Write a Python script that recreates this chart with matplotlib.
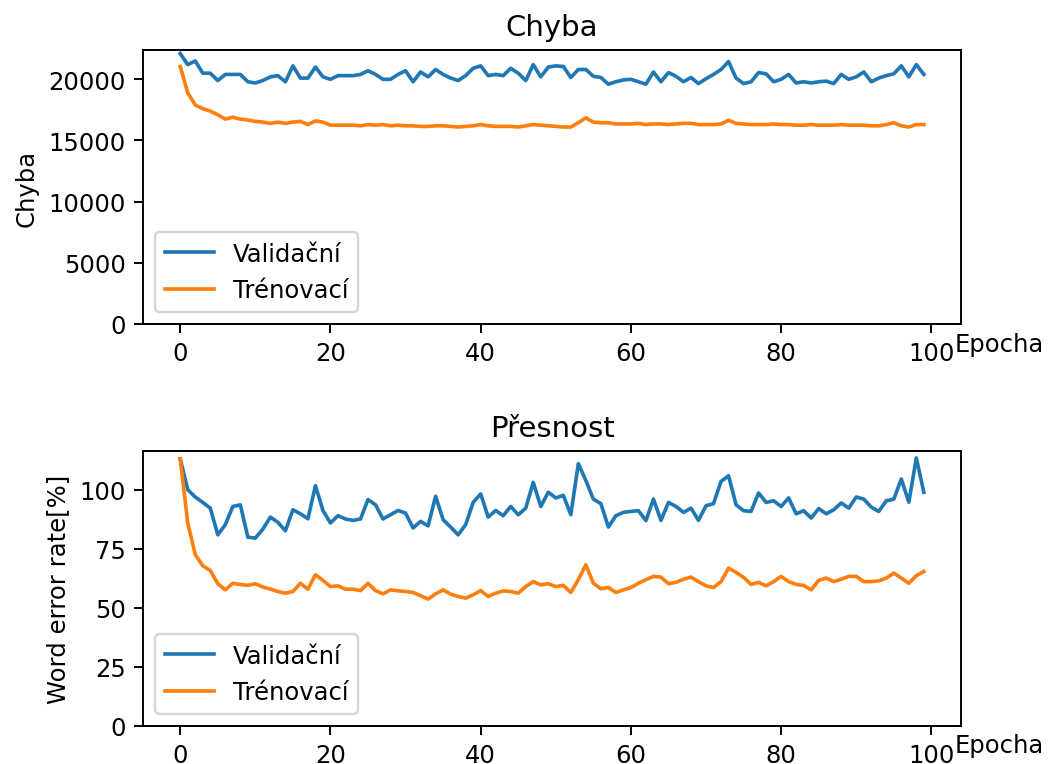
import numpy as np
import matplotlib
matplotlib.use('Agg')
from matplotlib import pyplot as plt

# epochs
epochs = np.arange(100)

# chyba (loss) - validacni / trenovaci, v tisicich
loss_val = [22.1, 21.2, 21.5, 20.5, 20.5, 19.9, 20.4, 20.4, 20.4, 19.8,
            19.7, 19.9, 20.2, 20.3, 19.8, 21.1, 20.1, 20.1, 21.0, 20.2,
            20.0, 20.3, 20.3, 20.3, 20.4, 20.7, 20.4, 20.0, 20.0, 20.4,
            20.7, 19.8, 20.6, 20.2, 20.8, 20.4, 20.1, 19.9, 20.3, 20.9,
            21.1, 20.3, 20.4, 20.3, 20.9, 20.5, 19.9, 21.2, 20.2, 21.0,
            21.1, 21.05, 20.15, 20.8, 20.8, 20.25, 20.15, 19.6, 19.8, 19.95,
            20.0, 19.8, 19.6, 20.6, 19.8, 20.55, 20.25, 19.8, 20.15, 19.65,
            20.05, 20.4, 20.8, 21.45, 20.1, 19.65, 19.8, 20.55, 20.45, 19.8,
            20.0, 20.4, 19.7, 19.8, 19.7, 19.8, 19.85, 19.65, 20.4, 20.0,
            20.2, 20.6, 19.8, 20.1, 20.3, 20.45, 21.1, 20.2, 21.2, 20.4]
loss_train = [21.05, 18.9, 17.9, 17.6, 17.4, 17.1, 16.75, 16.9, 16.75, 16.67,
              16.56, 16.5, 16.4, 16.5, 16.4, 16.5, 16.56, 16.3, 16.6, 16.5,
              16.25, 16.25, 16.25, 16.25, 16.2, 16.3, 16.25, 16.3, 16.2, 16.25,
              16.2, 16.2, 16.15, 16.15, 16.2, 16.2, 16.15, 16.1, 16.15, 16.2,
              16.3, 16.2, 16.15, 16.15, 16.15, 16.1, 16.2, 16.3, 16.25, 16.2,
              16.15, 16.1, 16.1, 16.45, 16.85, 16.5, 16.45, 16.45, 16.35, 16.35,
              16.35, 16.4, 16.3, 16.35, 16.35, 16.3, 16.35, 16.4, 16.4, 16.3,
              16.3, 16.3, 16.35, 16.65, 16.4, 16.35, 16.3, 16.3, 16.3, 16.35,
              16.3, 16.3, 16.25, 16.25, 16.3, 16.25, 16.25, 16.25, 16.3, 16.25,
              16.25, 16.25, 16.2, 16.2, 16.3, 16.45, 16.2, 16.1, 16.3, 16.3]

# presnost (word error rate v %)
wer_val = [113, 100, 96.9, 94.6, 92.2, 80.9, 85.2, 92.9, 93.6, 79.9,
           79.5, 83.3, 88.4, 86.2, 82.6, 91.5, 89.8, 87.7, 101.7, 91.2,
           85.9, 89.0, 87.6, 87.0, 87.6, 95.8, 93.6, 87.6, 89.4, 91.2,
           90.1, 83.8, 86.6, 84.7, 97.2, 87.3, 84.2, 80.9, 85.2, 94.6,
           98.2, 88.4, 91.2, 89.0, 92.9, 89.4, 92.2, 103.1, 92.9, 98.9,
           96.5, 97.6, 89.4, 111.0, 103.9, 96.0, 94.1, 84.2, 89.0, 90.4,
           90.8, 91.1, 86.9, 96.0, 87.0, 94.6, 92.9, 90.4, 92.2, 87.0,
           93.2, 94.1, 103.5, 105.9, 93.6, 91.1, 90.8, 98.6, 94.6, 95.3,
           92.9, 96.5, 89.8, 91.1, 88.0, 92.0, 89.8, 91.5, 94.4, 92.2,
           96.9, 96.0, 92.6, 90.8, 95.3, 96.0, 104.5, 94.7, 113.4, 98.9]
wer_train = [113, 85.9, 72.5, 67.8, 65.8, 60.2, 57.6, 60.4, 59.9, 59.5,
             60.2, 58.8, 57.9, 56.9, 56.2, 56.9, 60.4, 57.9, 64.0, 61.6,
             59.0, 59.3, 57.9, 57.9, 57.3, 60.4, 57.3, 55.9, 57.6, 57.2,
             56.9, 56.5, 55.1, 53.7, 55.9, 57.6, 55.8, 54.8, 54.1, 55.5,
             57.3, 54.8, 56.2, 57.2, 56.9, 56.2, 59.0, 61.1, 59.7, 60.2,
             59.0, 59.5, 56.5, 61.9, 68.2, 60.4, 58.1, 58.6, 56.5, 57.6,
             58.6, 60.4, 61.9, 63.3, 63.0, 60.2, 60.8, 62.1, 63.0, 61.1,
             59.3, 58.6, 61.1, 66.8, 65.0, 62.9, 59.9, 60.8, 59.3, 61.1,
             63.3, 61.1, 59.9, 59.5, 57.6, 61.6, 62.6, 61.1, 62.1, 63.3,
             63.3, 61.1, 61.1, 61.4, 62.6, 64.7, 62.6, 60.4, 63.6, 65.4]

dpi = 175
fig = plt.figure(figsize=(1048 / dpi, 765 / dpi), dpi=dpi)
ax1 = fig.add_axes([0.1365, 0.5752, 0.7805, 0.3582])
ax2 = fig.add_axes([0.1365, 0.0497, 0.7805, 0.3595])

# todo: chyba
ax1.plot(epochs, np.array(loss_val) * 1000, label='Validační')
ax1.plot(epochs, np.array(loss_train) * 1000, label='Trénovací')
ax1.set_ylim(bottom=0)
ax1.set_title('Chyba')
ax1.set_ylabel('Chyba')
ax1.set_xlabel('Epocha')
ax1.xaxis.set_label_coords(1.047, -0.03)
ax1.legend(loc='lower left')

# todo: presnost
ax2.plot(epochs, wer_val, label='Validační')
ax2.plot(epochs, wer_train, label='Trénovací')
ax2.set_ylim(bottom=0)
ax2.set_title('Přesnost')
ax2.set_ylabel('Word error rate[%]')
ax2.set_xlabel('Epocha')
ax2.xaxis.set_label_coords(1.047, -0.025)
ax2.legend(loc='lower left')

fig.savefig('out.png', dpi=dpi)
